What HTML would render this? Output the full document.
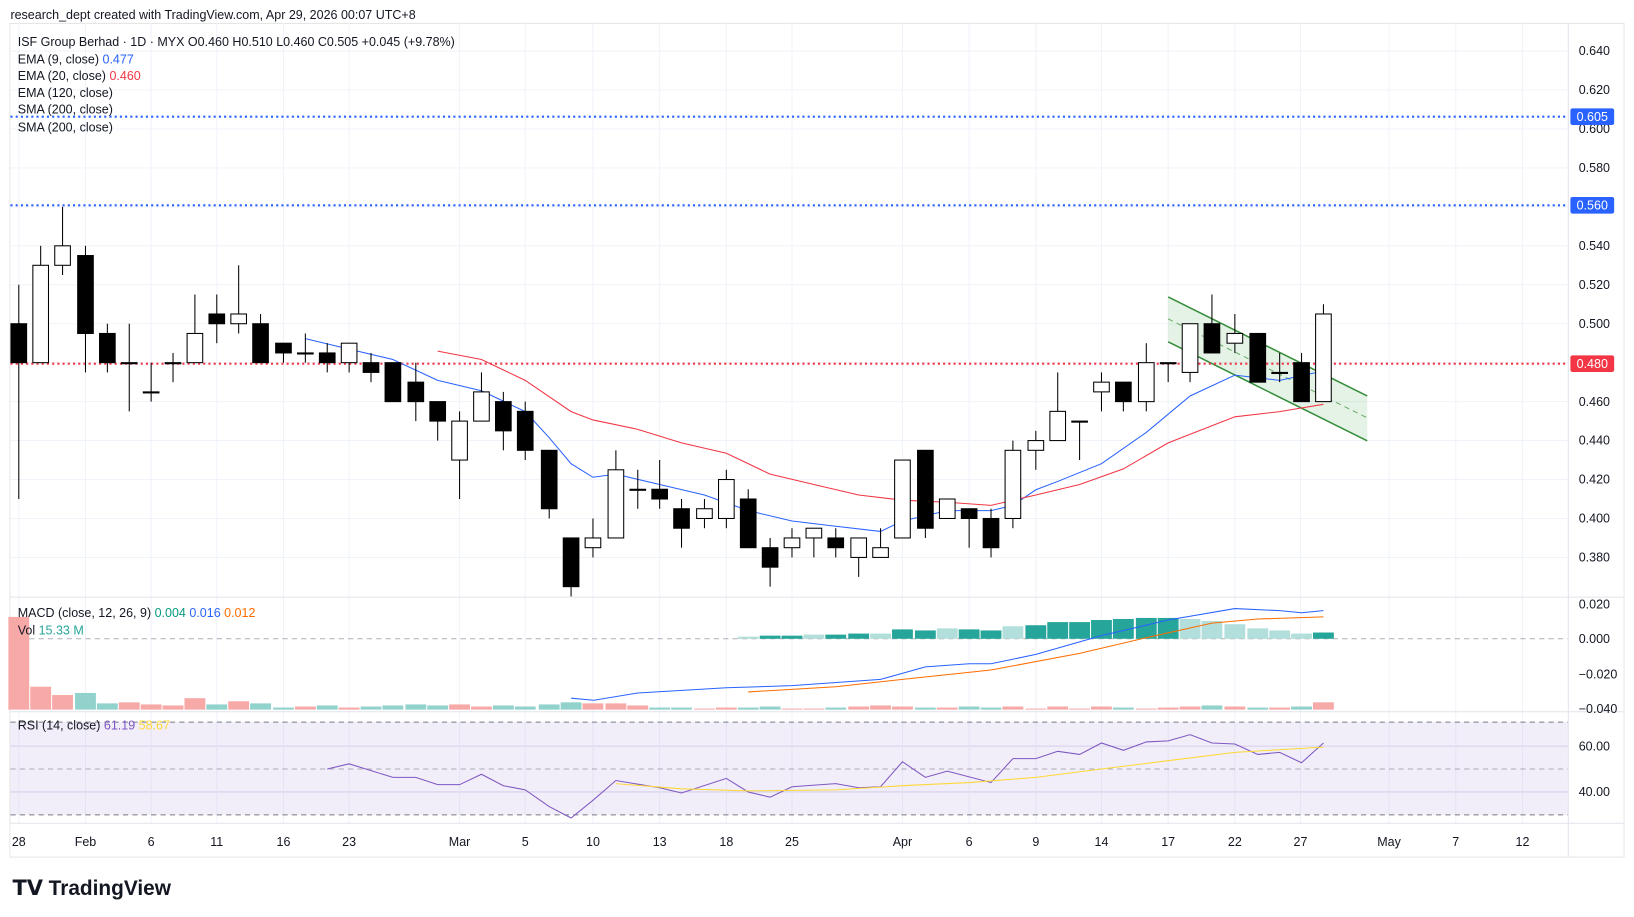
<!DOCTYPE html>
<html><head><meta charset="utf-8"><style>
html,body{margin:0;padding:0;background:#fff;width:1634px;height:917px;overflow:hidden}
svg{display:block}
text{font-family:"Liberation Sans",sans-serif}
</style></head><body>
<svg id="s" width="1634" height="917" viewBox="0 0 1568 880" xmlns="http://www.w3.org/2000/svg">
<rect width="1568" height="880" fill="#fff"/>
<text x="10" y="18" font-size="12" fill="#131722">research_dept created with TradingView.com, Apr 29, 2026 00:07 UTC+8</text>
<rect x="9.5" y="22.5" width="1549" height="800" fill="none" stroke="#e6e6e6"/>
<g id="grid"></g>
<rect x="10" y="693" width="1495" height="89" fill="#7e57c2" fill-opacity="0.1"/>
<g stroke="#787b86" stroke-dasharray="5,4" stroke-width="1">
<line x1="10" y1="693" x2="1505" y2="693"/><line x1="10" y1="738" x2="1505" y2="738" stroke-opacity="0.6"/><line x1="10" y1="782" x2="1505" y2="782"/>
<line x1="10" y1="613" x2="1505" y2="613" stroke-opacity="0.6"/>
</g>
<line x1="10" y1="573" x2="1558" y2="573" stroke="#e0e3eb"/>
<line x1="10" y1="683" x2="1558" y2="683" stroke="#e0e3eb"/>
<line x1="10" y1="790" x2="1558" y2="790" stroke="#e0e3eb"/>
<line x1="1505" y1="22" x2="1505" y2="822" stroke="#e0e3eb"/>
<g id="vol"></g><g id="hist"></g>
<polygon points="1121,285 1312,380 1312,423 1121,328" fill="#4caf50" fill-opacity="0.15"/>
<line x1="1121" y1="285" x2="1312" y2="380" stroke="#388e3c" stroke-width="1.5"/>
<line x1="1121" y1="328" x2="1312" y2="423" stroke="#388e3c" stroke-width="1.5"/>
<line x1="1121" y1="306" x2="1312" y2="401" stroke="#388e3c" stroke-dasharray="5,4" stroke-opacity="0.7"/>
<g stroke-dasharray="2,3" stroke-width="2">
<line x1="10" y1="112" x2="1505" y2="112" stroke="#2962ff"/>
<line x1="10" y1="197" x2="1505" y2="197" stroke="#2962ff"/>
<line x1="10" y1="349" x2="1505" y2="349" stroke="#f23645"/>
</g>
<polyline fill="none" stroke="#2962ff" stroke-width="1" points="293,325 335,335 377,345 420,365 462,375 504,395 527,420 548,445 569,458 591,455 633,465 676,475 718,490 760,500 802,505 845,510 866,500 909,490 951,490 972,485 994,470 1015,462 1057,445 1100,415 1142,380 1185,360 1228,365 1270,356"/>
<polyline fill="none" stroke="#f23645" stroke-width="1" points="420,337 462,345 504,365 548,395 569,403 612,412 654,425 697,435 739,455 781,465 824,475 866,480 909,482 951,485 994,475 1036,465 1078,450 1121,425 1185,400 1228,395 1270,388"/>
<g id="candles"></g>
<polyline fill="none" stroke="#2962ff" stroke-width="1" points="548,670 570,672 612,665 697,660 760,658 845,652 888,640 930,637 951,637 994,628 1057,610 1121,595 1185,584 1228,586 1249,588 1270,586"/>
<polyline fill="none" stroke="#ff6d00" stroke-width="1" points="718,664 802,659 866,652 951,643 1036,627 1100,612 1163,598 1207,594 1270,592"/>
<polyline fill="none" stroke="#7e57c2" stroke-width="1" points="314,738 335,733 377,746 399,746 420,753 441,753 462,743 483,754 504,758 527,774 548,785 569,768 591,749 633,756 654,761 697,747 718,760 739,765 760,755 802,752 824,756 845,755 866,731 888,746 909,740 951,751 972,728 994,728 1015,721 1036,724 1057,713 1078,720 1100,712 1121,711 1142,705 1163,713 1185,714 1207,724 1228,722 1249,732 1270,713"/>
<polyline fill="none" stroke="#fdd835" stroke-width="1" points="591,752 654,757 718,759 802,758 866,754 930,751 994,746 1057,738 1121,730 1185,722 1270,717"/>
<g font-size="12" fill="#131722">
<text x="17" y="44">ISF Group Berhad · 1D · MYX  O0.460  H0.510  L0.460  C0.505  +0.045 (+9.78%)</text>
<text x="17" y="61">EMA (9, close) <tspan fill="#2962ff">0.477</tspan></text>
<text x="17" y="77">EMA (20, close) <tspan fill="#f23645">0.460</tspan></text>
<text x="17" y="93">EMA (120, close)</text>
<text x="17" y="109">SMA (200, close)</text>
<text x="17" y="126">SMA (200, close)</text>
<text x="17" y="592">MACD (close, 12, 26, 9) <tspan fill="#089981">0.004</tspan> <tspan fill="#2962ff">0.016</tspan> <tspan fill="#ff6d00">0.012</tspan></text>
<text x="17" y="609">Vol <tspan fill="#26a69a">15.33 M</tspan></text>
<text x="17" y="700">RSI (14, close) <tspan fill="#7e57c2">61.19</tspan> <tspan fill="#fdd835">58.67</tspan></text>
</g>
<g id="axis" font-size="12" fill="#131722"></g>
<rect x="1507" y="104" width="42" height="16" rx="2" fill="#2962ff"/><text x="1528" y="116" font-size="12" fill="#fff" text-anchor="middle">0.605</text>
<rect x="1507" y="189" width="42" height="16" rx="2" fill="#2962ff"/><text x="1528" y="201" font-size="12" fill="#fff" text-anchor="middle">0.560</text>
<rect x="1507" y="341" width="42" height="16" rx="2" fill="#f23645"/><text x="1528" y="353" font-size="12" fill="#fff" text-anchor="middle">0.480</text>
<text x="12" y="859" font-size="20" font-weight="bold" fill="#131722">𝗧𝗩 TradingView</text>
</svg>
<script>
const NS="http://www.w3.org/2000/svg";
function el(p,t,a){const e=document.createElementNS(NS,t);for(const k in a)e.setAttribute(k,a[k]);document.getElementById(p).appendChild(e);return e;}
const Y=p=>49+(0.64-p)*1869;
const C=[[18,.5,.48,.52,.41],[39,.48,.53,.54,.48],[60,.53,.54,.56,.525],[82,.535,.495,.54,.475],[103,.495,.48,.5,.475],[124,.48,.48,.5,.455],[145,.465,.465,.48,.46],[166,.48,.48,.485,.47],[187,.48,.495,.515,.48],[208,.505,.5,.515,.49],[229,.5,.505,.53,.495],[250,.5,.48,.505,.48],[272,.49,.485,.49,.48],[293,.485,.485,.495,.48],[314,.485,.48,.49,.475],[335,.48,.49,.49,.475],[356,.48,.475,.485,.47],[377,.48,.46,.48,.46],[399,.47,.46,.48,.45],[420,.46,.45,.46,.44],[441,.43,.45,.455,.41],[462,.45,.465,.475,.45],[483,.46,.445,.465,.435],[504,.455,.435,.46,.43],[527,.435,.405,.435,.4],[548,.39,.365,.39,.36],[569,.385,.39,.4,.38],[591,.39,.425,.435,.39],[612,.415,.415,.425,.405],[633,.415,.41,.43,.405],[654,.405,.395,.41,.385],[676,.4,.405,.41,.395],[697,.4,.42,.425,.395],[718,.41,.385,.415,.385],[739,.385,.375,.39,.365],[760,.385,.39,.395,.38],[781,.39,.395,.395,.38],[802,.39,.385,.395,.38],[824,.38,.39,.39,.37],[845,.38,.385,.395,.38],[866,.39,.43,.43,.39],[888,.435,.395,.435,.39],[909,.4,.41,.41,.4],[930,.405,.4,.405,.385],[951,.4,.385,.405,.38],[972,.4,.435,.44,.395],[994,.435,.44,.445,.425],[1015,.44,.455,.475,.44],[1036,.45,.45,.45,.43],[1057,.465,.47,.475,.455],[1078,.47,.46,.47,.455],[1100,.46,.48,.49,.455],[1121,.48,.48,.48,.47],[1142,.475,.5,.5,.47],[1163,.5,.485,.515,.485],[1185,.49,.495,.505,.485],[1207,.495,.47,.495,.47],[1228,.475,.475,.485,.47],[1249,.48,.46,.485,.46],[1270,.46,.505,.51,.46]];
const vols=[89,22,14,16,6,7,5,4,11,5,8,6,2,3,4,2,3,4,5,4,5,3,4,3,5,7,6,6,4,2,2,1,2,2,3,1,1,2,3,4,3,2,2,3,2,3,1,3,1,3,2,1,2,3,4,3,2,2,3,7];
C.forEach((c,i)=>{const[x,o,cl,h,l]=c;const up=cl>=o;
el("candles","line",{x1:x,y1:Y(h),x2:x,y2:Y(l),stroke:"#000"});
const t=Math.min(Y(o),Y(cl)),hh=Math.max(1,Math.abs(Y(o)-Y(cl)));
el("candles","rect",{x:x-7.5,y:t,width:15,height:hh,fill:up?"#fff":"#000",stroke:"#000"});
const v=vols[i]||2;el("vol","rect",{x:x-10,y:681-v,width:20,height:v,fill:(up||i==0)?"#f7a9a7":"#92d2cc"});
});
const hv=[[718,2],[739,3],[760,3],[781,4],[802,4],[824,5],[845,5],[866,9],[888,8],[909,10],[930,9],[951,8],[972,12],[994,13],[1015,16],[1036,16],[1057,18],[1078,19],[1100,20],[1121,20],[1142,19],[1163,17],[1185,14],[1207,10],[1228,8],[1249,5],[1270,6]];
hv.forEach(([x,h],i)=>{const dark=(i<21&&i%3!=0)||i==26||(i>=13&&i<=19);el("hist","rect",{x:x-10,y:613-h,width:20,height:h,fill:dark&&i<20||i==26?"#26a69a":"#b2dfdb"});});
for(let p=.38;p<=.641;p+=.02){const y=Y(p);el("grid","line",{x1:10,y1:y,x2:1505,y2:y,stroke:"#f0f3fa"});
const t=el("axis","text",{x:1515,y:y+4});t.textContent=p.toFixed(3);}
[["0.020",580],["0.000",613],["−0.020",647],["−0.040",680]].forEach(([s,y])=>{const t=el("axis","text",{x:1515,y:y+4});t.textContent=s;});
[["60.00",716],["40.00",760]].forEach(([s,y])=>{const t=el("axis","text",{x:1515,y:y+4});t.textContent=s;el("grid","line",{x1:10,y1:y,x2:1505,y2:y,stroke:"#e0dcf0"});});
const D=[["28",18],["Feb",82],["6",145],["11",208],["16",272],["23",335],["Mar",441],["5",504],["10",569],["13",633],["18",697],["25",760],["Apr",866],["6",930],["9",994],["14",1057],["17",1121],["22",1185],["27",1248],["May",1333],["7",1397],["12",1461]];
D.forEach(([s,x])=>{el("grid","line",{x1:x,y1:22,x2:x,y2:790,stroke:"#f0f3fa"});const t=el("axis","text",{x:x,y:812,"text-anchor":"middle"});t.textContent=s;});
</script>
</body></html>
